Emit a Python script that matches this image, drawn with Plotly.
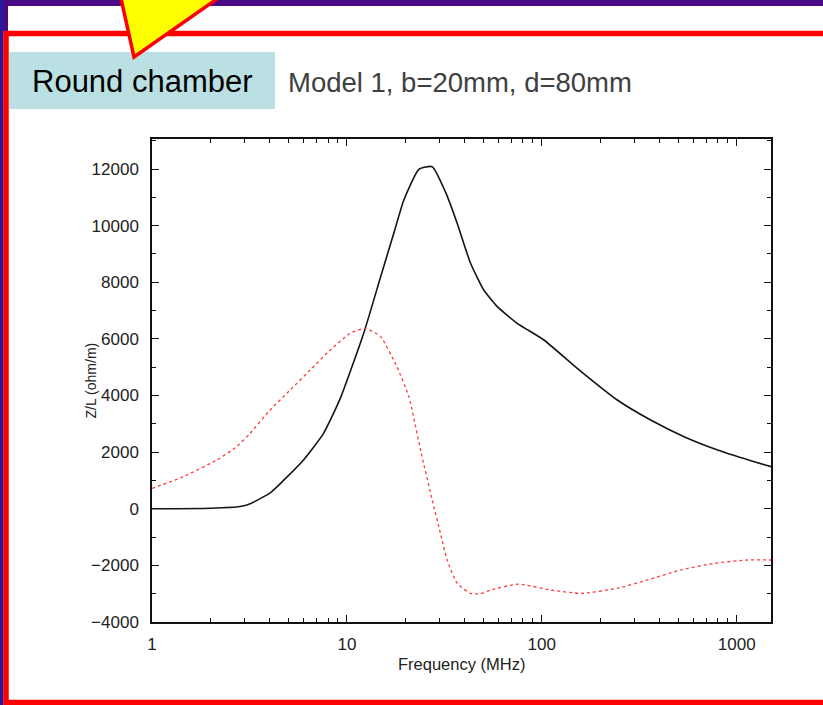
import plotly.graph_objects as go

# ---- data ----
freq_black = [1, 2, 2.83, 3.19, 4.04, 4.73, 5.99, 7.59, 9.25, 12.2, 14.9, 17.4, 19.6,
              23.4, 27.4, 32.0, 36.8, 43.1, 50.4, 59.1, 74.8, 102.5, 152, 244, 362,
              537, 798, 1183, 1500]
z_black = [0, 20, 80, 180, 560, 1000, 1722, 2665, 3900, 6198, 8197, 9730, 10906,
           11990, 12083, 11200, 10083, 8670, 7727, 7138, 6551, 5961, 4961, 3842, 3135,
           2546, 2076, 1698, 1487]

freq_red = [1, 1.45, 2.15, 2.72, 3.19, 4.04, 5.12, 6.48, 8.22, 10.4, 12.4, 14.9, 18.1,
            20.8, 24, 27.4, 30.2, 32.7, 36.8, 43.1, 48.5, 54.6, 76, 111, 160, 244, 348,
            517, 766, 1137, 1500]
z_red = [720, 1133, 1722, 2193, 2665, 3489, 4195, 4901, 5608, 6198, 6374, 6078, 5000,
         3959, 2000, 309, -867, -1810, -2634, -2987, -3000, -2870, -2660, -2870, -2990,
         -2810, -2516, -2163, -1927, -1810, -1810]

x_tickvals = [1, 10, 100, 1000]
x_ticktext = ["1", "10", "100", "1000"]
x_minorvals = [2, 3, 4, 5, 6, 7, 8, 9, 20, 30, 40, 50, 60, 70, 80, 90,
               200, 300, 400, 500, 600, 700, 800, 900]
y_tickvals = [-4000, -2000, 0, 2000, 4000, 6000, 8000, 10000, 12000]
y_ticktext = ["\u22124000", "\u22122000", "0", "2000", "4000", "6000", "8000", "10000", "12000"]

title_box = "Round chamber"
subtitle = "Model 1, b=20mm, d=80mm"
x_title = "Frequency (MHz)"
y_title = "Z/L (ohm/m)"

# ---- layout geometry (pixels) ----
W, H = 823, 705
L, R, T, B = 152, 771, 139, 622
PW, PH = R - L, B - T


def px(x):
    return (x - L) / PW


def py(y):
    return (B - y) / PH


FONT = "Liberation Sans, Arial, sans-serif"

fig = go.Figure()
fig.add_trace(go.Scatter(x=freq_black, y=z_black, mode="lines",
                         line=dict(color="#151515", width=1.6, shape="spline", smoothing=0.5),
                         showlegend=False))
fig.add_trace(go.Scatter(x=freq_red, y=z_red, mode="lines",
                         line=dict(color="#ff3b3b", width=1.3, dash="dot", shape="spline", smoothing=0.5),
                         showlegend=False))

axis_common = dict(showline=True, linecolor="#111111", linewidth=1.5, mirror="ticks",
                   ticks="inside", ticklen=7, tickwidth=1.3, tickcolor="#111111",
                   showgrid=False, zeroline=False,
                   tickfont=dict(family=FONT, size=17, color="#222222"))

fig.update_xaxes(type="log", range=[0, 3.1761], tickmode="array",
                 tickvals=x_tickvals, ticktext=x_ticktext, ticklabelstandoff=6,
                 minor=dict(ticks="inside", ticklen=4, tickwidth=1.2, tickcolor="#111111",
                            tickmode="array", tickvals=x_minorvals, showgrid=False),
                 **axis_common)
fig.update_yaxes(range=[-4000, 13060], tickmode="array",
                 tickvals=y_tickvals, ticktext=y_ticktext, ticklabelstandoff=8,
                 minor=dict(ticks="inside", ticklen=4, tickwidth=1.2, tickcolor="#111111",
                            dtick=1000, showgrid=False),
                 **axis_common)

shapes = []
# top purple band and left purple strip
shapes.append(dict(type="rect", xref="paper", yref="paper", layer="above",
                   x0=px(0), x1=px(W), y0=py(0), y1=py(6),
                   fillcolor="#4a0a84", line=dict(width=0)))
shapes.append(dict(type="rect", xref="paper", yref="paper", layer="above",
                   x0=px(0), x1=px(8), y0=py(0), y1=py(31),
                   fillcolor="#4a0a84", line=dict(width=0)))
shapes.append(dict(type="rect", xref="paper", yref="paper", layer="above",
                   x0=px(0), x1=px(3.5), y0=py(0), y1=py(H),
                   fillcolor="#2a1a9a", line=dict(width=0)))
# red border
shapes.append(dict(type="rect", xref="paper", yref="paper", layer="above",
                   x0=px(6), x1=px(W + 10), y0=py(33.5), y1=py(702.5),
                   line=dict(color="#ff0000", width=5.5)))
# label box
shapes.append(dict(type="rect", xref="paper", yref="paper", layer="above",
                   x0=px(9), x1=px(275), y0=py(52), y1=py(109),
                   fillcolor="#bbe0e3", line=dict(width=0)))
# yellow callout triangle
tri = [(120, -6), (224, -6), (134, 57)]
path = "M " + " L ".join(f"{px(a):.5f},{py(b):.5f}" for a, b in tri) + " Z"
shapes.append(dict(type="path", xref="paper", yref="paper", layer="above", path=path,
                   fillcolor="#ffff00", line=dict(color="#ff0000", width=3.5)))

annotations = [
    dict(text=title_box, xref="paper", yref="paper", x=px(142.5), y=py(81),
         xanchor="center", yanchor="middle", showarrow=False,
         font=dict(family=FONT, size=31, color="#000000")),
    dict(text=subtitle, xref="paper", yref="paper", x=px(286), y=py(83),
         xanchor="left", yanchor="middle", showarrow=False,
         font=dict(family=FONT, size=27.5, color="#404040")),
    dict(text=x_title, xref="paper", yref="paper", x=0.5, y=py(664),
         xanchor="center", yanchor="middle", showarrow=False,
         font=dict(family=FONT, size=16.5, color="#222222")),
    dict(text=y_title, xref="paper", yref="paper", x=px(90), y=0.5,
         xanchor="center", yanchor="middle", showarrow=False, textangle=-90,
         font=dict(family=FONT, size=14, color="#222222")),
]

fig.update_layout(width=W, height=H, margin=dict(l=L, r=W - R, t=T, b=H - B, pad=0),
                  paper_bgcolor="white", plot_bgcolor="white",
                  shapes=shapes, annotations=annotations, showlegend=False)

fig.write_html("out.html")
